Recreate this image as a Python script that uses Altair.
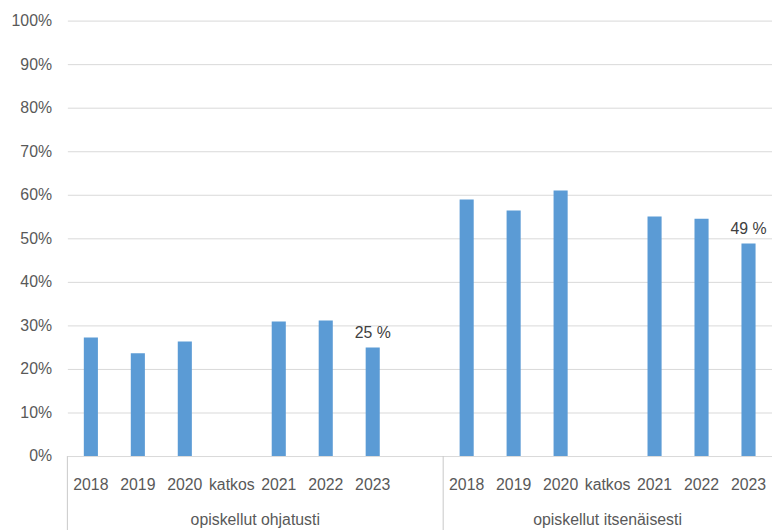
import altair as alt
import pandas as pd

years = ["2018", "2019", "2020", "katkos", "2021", "2022", "2023"]
groups = ["opiskellut ohjatusti", "opiskellut itsenäisesti"]
ohjatusti = [0.272, 0.236, 0.263, None, 0.309, 0.311, 0.249]
itsenaisesti = [0.589, 0.564, 0.610, None, 0.550, 0.545, 0.488]
y_ticks = [0, 0.1, 0.2, 0.3, 0.4, 0.5, 0.6, 0.7, 0.8, 0.9, 1.0]

rows = []
for y, v in zip(years, ohjatusti):
    rows.append({"key": "o" + y, "label": y, "group": groups[0], "value": v})
rows.append({"key": "ogap", "label": "", "group": groups[0], "value": None})
for y, v in zip(years, itsenaisesti):
    rows.append({"key": "i" + y, "label": y, "group": groups[1], "value": v})
df = pd.DataFrame(rows)
keys = list(df["key"])
gdf = pd.DataFrame({"group": groups})

W, H = 712, 440
n = len(keys)
step = W / n
FONT = "Liberation Sans"
TXT = "#595959"

xenc = alt.X(
    "key:N",
    sort=keys,
    scale=alt.Scale(domain=keys, paddingInner=0.7, paddingOuter=0.35),
    axis=alt.Axis(
        title=None,
        labelAngle=0,
        labelExpr="datum.value == 'ogap' ? '' : slice(datum.value, 1)",
        domain=False,
        ticks=False,
        grid=False,
        labelFont=FONT,
        labelFontSize=16,
        labelColor=TXT,
        labelPadding=21,
    ),
)
yenc = alt.Y(
    "value:Q",
    scale=alt.Scale(domain=[0, 1]),
    axis=alt.Axis(
        title=None,
        values=y_ticks,
        format=".0%",
        domain=False,
        ticks=False,
        gridColor="#d9d9d9",
        gridWidth=1,
        labelFont=FONT,
        labelFontSize=16,
        labelColor=TXT,
        labelPadding=16,
    ),
)

base = alt.Chart(df)
bars = base.mark_bar(color="#5B9BD5").encode(x=xenc, y=yenc)

labels = (
    base.transform_filter("datum.label == '2023'")
    .transform_calculate(txt="format(datum.value * 100, '.0f') + ' %'")
    .mark_text(baseline="bottom", dy=-7, font=FONT, fontSize=16, color="#404040")
    .encode(x=alt.X("key:N", sort=keys), y="value:Q", text="txt:N")
)

sep_x = [0, step * 8]
seps = alt.layer(*[
    alt.Chart(gdf).transform_filter(f"datum.group == '{groups[0]}'")
    .mark_rule(color="#c8c8c8", strokeWidth=1)
    .encode(x=alt.value(sx), y=alt.value(H), y2=alt.value(H + 90))
    for sx in sep_x
])

gx = [step * 4, step * 8 + step * 3.5]
glabels = alt.layer(*[
    alt.Chart(gdf).transform_filter(f"datum.group == '{g}'")
    .mark_text(font=FONT, fontSize=16, color=TXT, baseline="middle")
    .encode(text="group:N", x=alt.value(xp), y=alt.value(H + 65))
    for g, xp in zip(groups, gx)
])

chart = (
    alt.layer(bars, labels, seps, glabels)
    .properties(
        width=W,
        height=H,
        autosize=alt.AutoSizeParams(type="none"),
        padding={"left": 60, "top": 10, "right": 0, "bottom": 72},
        background="white",
    )
    .configure_view(stroke=None)
)

chart.save("out.html", embed_options={"renderer": "svg", "actions": False})
